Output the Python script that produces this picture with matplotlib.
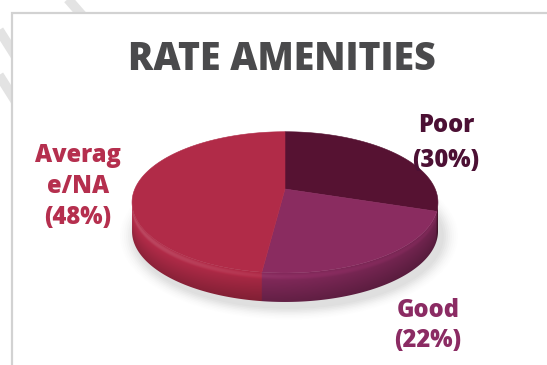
import numpy as np
import matplotlib
matplotlib.use("Agg")
import matplotlib.pyplot as plt
from matplotlib.patches import Polygon, Rectangle, Ellipse
from matplotlib.colors import to_rgb

# ---- data ----
categories = ["Poor", "Good", "Average/NA"]
shares = [30, 22, 48]
label_lines = [["Poor"], ["Good"], ["Averag", "e/NA"]]
top_colors = ["#561232", "#8a2c60", "#b12b48"]
text_colors = ["#4c1034", "#8b2b63", "#b52f4e"]
title = "RATE AMENITIES"

W, H = 547, 365
fig = plt.figure(figsize=(W / 100, H / 100), dpi=100)
ax = fig.add_axes([0, 0, 1, 1])
ax.set_xlim(0, W)
ax.set_ylim(H, 0)
ax.axis("off")

# faint background strokes and framed panel
for (x0, y0, x1, y1) in [(-20, 0, 40, 95), (-20, 45, 40, 140), (60, -10, 95, 30)]:
    ax.plot([x0, x1], [y0, y1], color="#e3e3e3", lw=7, solid_capstyle="butt", zorder=0)
ax.add_patch(Rectangle((12, 12.5), W, H, facecolor="white", edgecolor="#d2d2d2",
                       lw=1.6, zorder=1))

# ---- 3D pie: disc seen in perspective ----
px, py = 285.0, 189.0      # image of the disc centre
A, B, kp = 150.2, 68.1, 0.189
depth = 29.0


def disc(alpha, dy=0.0):
    # alpha: degrees clockwise from 12 o'clock on the disc
    t = np.radians(alpha)
    X, Z = np.sin(t), -np.cos(t)
    w = 1 - kp * Z
    return px + A * X / w, py + B * Z / w + dy


fr = np.array(shares, float) / sum(shares)
edges = 360 * np.concatenate([[0], np.cumsum(fr)])

# outline of the top face (an ellipse in the image)
al = np.linspace(0, 360, 721)
ox, oy = disc(al)
ex, ey = (ox.max() + ox.min()) / 2, (oy.max() + oy.min()) / 2
ea, eb = (ox.max() - ox.min()) / 2, (oy.max() - oy.min()) / 2

# soft shadow beneath the pie
for i, a_ in enumerate(np.linspace(0.05, 0.012, 8)):
    ax.add_patch(Ellipse((ex + 4, ey + depth + 5), 2 * ea + 4 + i * 4, 2 * eb + 4 + i * 3,
                         facecolor="#808080", edgecolor="none", alpha=a_, zorder=2))

# front (lower) arc: x -> disc angle, used to colour the side wall
i_l, i_r = np.argmin(ox), np.argmax(ox)
front = np.linspace(al[i_l], al[i_r] if al[i_r] < al[i_l] else al[i_r] - 360, 800)
fx, _ = disc(front)
order = np.argsort(fx)

nx, ny = 700, 260
x0, x1 = ox.min(), ox.max()
y0, y1 = ey, ey + eb + depth + 1
xs = np.linspace(x0, x1, nx)
ys = np.linspace(y0, y1, ny)
Xg, Yg = np.meshgrid(xs, ys)
U = np.clip((Xg - ex) / ea, -1, 1)
ytop = ey + eb * np.sqrt(1 - U ** 2)
F = np.clip((Yg - ytop) / depth, 0, 1)
ang = np.mod(np.interp(Xg, fx[order], front[order]), 360)
idx = (np.searchsorted(edges[1:], ang, side="right")).clip(0, len(shares) - 1)
base = np.array([to_rgb(c) for c in top_colors])[idx]

horiz = 1.02 - 0.22 * (U + 1) / 2
vert = np.where(F < 0.25, 1.0 + 0.12 * np.sin(np.pi * F / 0.25),
                1.0 - 0.22 * (F - 0.25) / 0.75)
k = (horiz * vert)[..., None]
img = np.where(k >= 1, base + (1 - base) * (k - 1), base * k).clip(0, 1)

tt = np.linspace(-np.pi, 0, 300)
top_edge = list(zip(ex + ea * np.cos(tt), ey - eb * np.sin(tt)))
bot_edge = list(zip(ex + ea * np.cos(tt[::-1]), ey - eb * np.sin(tt[::-1]) + depth))
clip = Polygon(top_edge + bot_edge, closed=True, facecolor="none", edgecolor="none",
               transform=ax.transData)
ax.add_patch(clip)
im = ax.imshow(img, extent=(x0, x1, y1, y0), origin="upper", interpolation="bilinear",
               zorder=3, aspect="auto")
im.set_clip_path(clip)

# top face wedges
for i in range(len(shares)):
    a_s = np.linspace(edges[i], edges[i + 1], 150)
    wx, wy = disc(a_s)
    verts = [(px, py)] + list(zip(wx, wy))
    ax.add_patch(Polygon(verts, closed=True, facecolor=top_colors[i],
                         edgecolor=top_colors[i], lw=0.4, zorder=4))

# ---- text ----
ax.text(281.5, 70, title, ha="center", va="baseline", fontsize=27,
        fontweight=800, family="Open Sans", color="#4a4a4c", zorder=6)

label_pos = [(446, 131.7, 35), (428, 316.7, 30), (78, 161.7, 31.2)]
for i, (x, y, step) in enumerate(label_pos):
    lines = label_lines[i] + [f"({shares[i]}%)"]
    for n, s in enumerate(lines):
        ax.text(x, y + n * step, s, ha="center", va="baseline", fontsize=17,
                fontweight=800, family="Open Sans", color=text_colors[i], zorder=6)

ax.set_xlim(0, W)
ax.set_ylim(H, 0)
fig.savefig("out.png", dpi=100)
